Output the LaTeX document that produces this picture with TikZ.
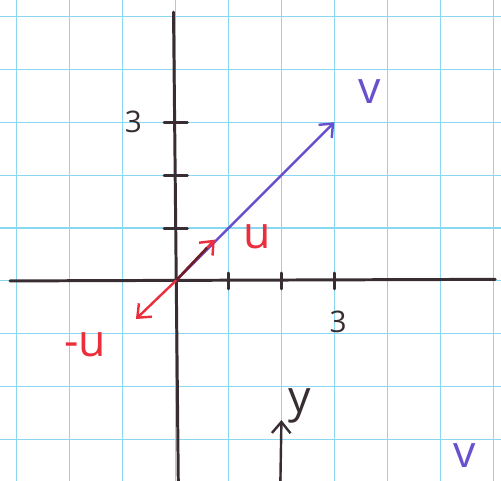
\documentclass[tikz,border=0pt]{standalone}
\usepackage{fontspec}
\setmainfont{Open Sans}
\usetikzlibrary{
	arrows.meta,
	calc
}
\definecolor{GridBlue}{RGB}{135,216,240}
\definecolor{PenBlack}{RGB}{55,45,50}
\definecolor{PenPurple}{RGB}{105,80,205}
\definecolor{PenRed}{RGB}{235,45,60}
\definecolor{PenMaroon}{RGB}{105,30,40}

\begin{document}
\begin{tikzpicture}[
		axis/.style={PenBlack, line width=1.6pt, line cap=round},
		vec/.style={line width=1.3pt, line cap=round, -{Straight Barb[length=6pt,width=10pt,line width=1.3pt]}},
		lab/.style={inner sep=0pt, font=\fontsize{24}{24}\selectfont},
		num/.style={inner sep=0pt, PenBlack, font=\fontsize{16}{16}\selectfont}
	]
		\useasboundingbox (-3.32,-3.78) rectangle (6.15,5.31);
		
		% 方格纸
		\draw[GridBlue, line width=0.6pt] (-3.32,-3.78) grid (6.15,5.31);
		
		% 坐标轴
		\coordinate (O) at (0,0);
		\coordinate (xl) at (-3.13,0);
		\coordinate (xr) at (6.04,0.03);
		\coordinate (yt) at (-0.04,5.08);
		\coordinate (yb) at (0.05,-3.78);
		\draw[axis] (xl) -- (xr);
		\draw[axis] (yt) -- (yb);
		\foreach \i in {1,2,3} {
			\draw[axis] (\i,-0.15) -- (\i,0.15);
			\draw[axis] (-0.22,\i) -- (0.22,\i);
		}
		\node[num] (x3) at (3.07,-0.78) {3};
		\node[num] (y3) at (-0.8,3.0) {3};
		
		% 向量 v, u, -u
		\coordinate (V) at (3,3);
		\coordinate (U) at (0.74,0.78);
		\coordinate (mU) at (-0.75,-0.72);
		\draw[vec, PenPurple] (O) -- (V);
		\draw[vec, PenRed] (O) -- (U);
		\draw[PenMaroon, line width=1.3pt] (O) -- ($(O)!0.8!(U)$);
		\draw[vec, PenRed] (O) -- (mU);
		\node[lab, PenPurple] (vlab) at (3.67,3.57) {v};
		\node[lab, PenRed] (ulab) at (1.54,0.83) {u};
		\node[lab, PenRed] (mulab) at (-1.71,-1.2) {-u};
		
		% 下方的 y 与 v
		\node[lab, PenBlack] (ylab) at (2.35,-2.36) {y};
		\coordinate (ybase) at (1.98,-3.78);
		\coordinate (ytip) at (2.0,-2.63);
		\draw[vec, PenBlack] (ybase) -- (ytip);
		\node[lab, PenPurple] (vlone) at (5.47,-3.3) {v};
		
	\end{tikzpicture}
\end{document}
